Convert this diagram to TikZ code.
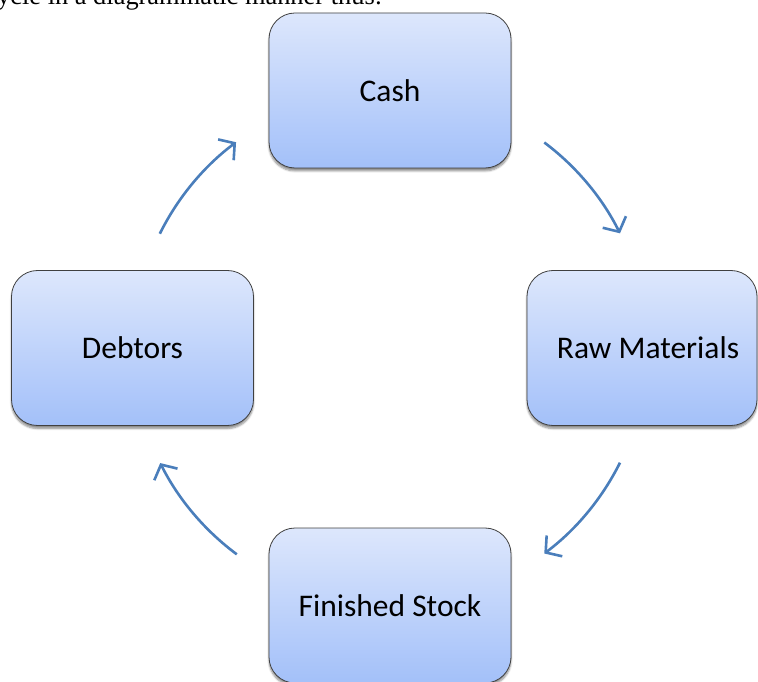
\documentclass[tikz,border=0pt]{standalone}
\usepackage{fontspec}
\setmainfont{Carlito}
\newfontfamily\serifbody{Liberation Serif}
\usetikzlibrary{arrows.meta,shadows.blur,calc}
\definecolor{arrowblue}{HTML}{4A7EBB}
\definecolor{boxtop}{HTML}{DDE7FC}
\definecolor{boxbot}{HTML}{A3C0F9}
\definecolor{boxedge}{HTML}{404040}
\tikzset{
  cyclebox/.style={draw=boxedge, line width=0.8pt, rounded corners=26pt,
    top color=boxtop, bottom color=boxbot,
    minimum width=242pt, minimum height=155pt, inner sep=0pt,
    blur shadow={shadow xshift=0pt, shadow yshift=-3pt, shadow blur steps=6, shadow opacity=45},
    font=\fontsize{31.5}{36}\selectfont},
  cyclearrow/.style={arrowblue, line width=2.6pt,
    -{Straight Barb[length=11pt,width=26pt,line width=2.6pt]}}
}
\begin{document}
\begin{tikzpicture}[x=1pt,y=1pt]
\useasboundingbox (0,0) rectangle (758,681);
\clip (0,0) rectangle (758,681);
\node[anchor=base west, font=\serifbody\fontsize{26.4}{30}\selectfont, inner sep=0pt] (caption) at (-3,676) {ycle in a diagrammatic manner thus:};
\coordinate (ctr) at (390,333);
\node[cyclebox] (cash) at (390,590.5) {Cash};
\node[cyclebox, minimum width=230pt] (raw) at (642,333) {\hspace*{12pt}Raw Materials};
\node[cyclebox] (stock) at (390,75.5) {Finished Stock};
\node[cyclebox] (debt) at (132.5,333) {Debtors};
\draw[cyclearrow] ($(ctr)+(53.1:257)$) arc[start angle=53.1, end angle=26.5, radius=257];
\draw[cyclearrow] ($(ctr)+(-26.5:257)$) arc[start angle=-26.5, end angle=-53.1, radius=257];
\draw[cyclearrow] ($(ctr)+(-126.6:257)$) arc[start angle=-126.6, end angle=-153.4, radius=257];
\draw[cyclearrow] ($(ctr)+(153.6:257)$) arc[start angle=153.6, end angle=126.8, radius=257];
\end{tikzpicture}
\end{document}
